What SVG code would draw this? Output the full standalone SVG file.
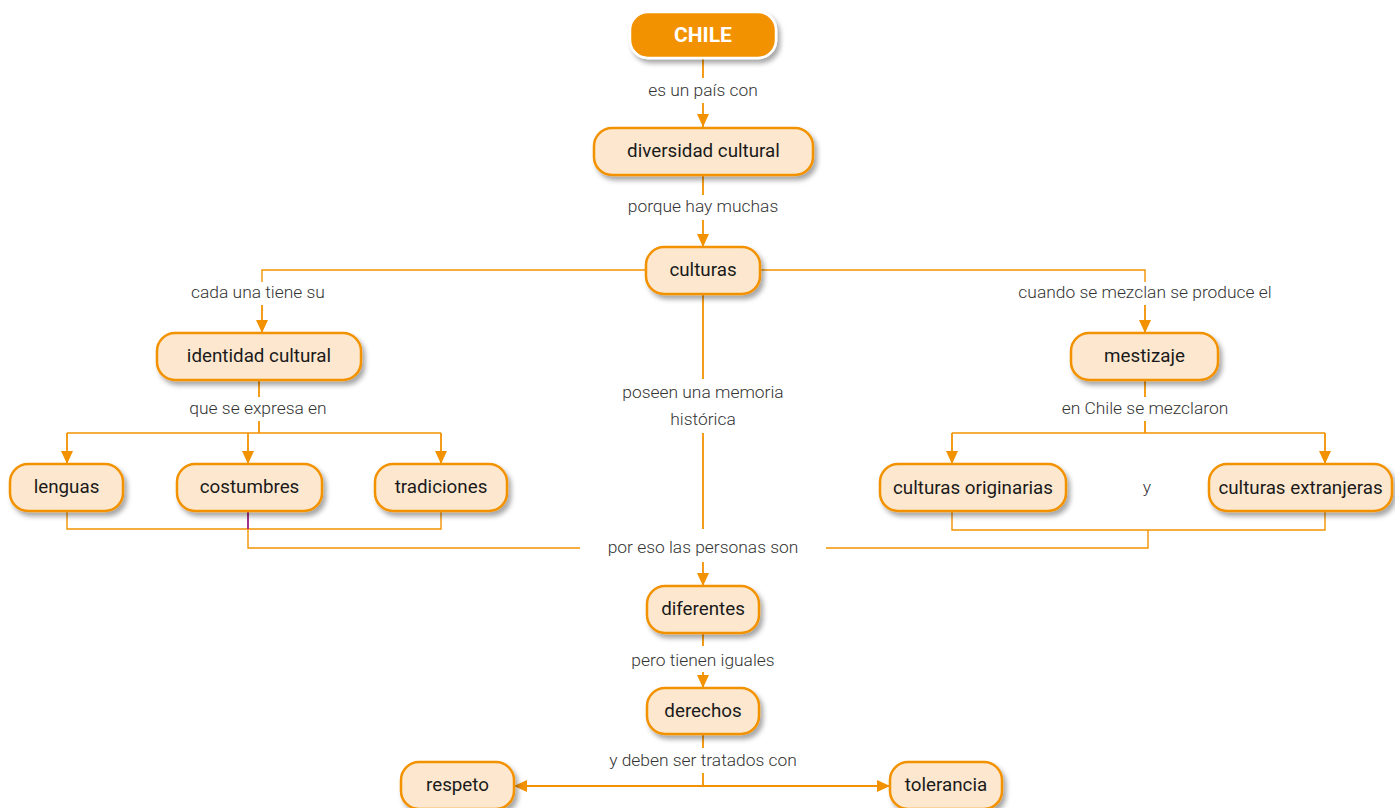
<svg xmlns="http://www.w3.org/2000/svg" width="1395" height="808" viewBox="0 0 1395 808">
<style>
.n rect{fill:#fde8cf;stroke:#f39200;stroke-width:2.5}
.n text{font-family:Roboto,"Open Sans",sans-serif;font-size:18.8px;fill:#1a1a1a;text-anchor:middle}
.c line,.c polyline{stroke:#f39200;stroke-width:1.8;fill:none}
.c .h{stroke-width:1.4}
.l{font-family:Roboto,"Open Sans",sans-serif;font-weight:300;font-size:17.4px;fill:#333;text-anchor:middle}
</style>
<defs>
<filter id="sh" x="-20%" y="-30%" width="150%" height="180%">
<feDropShadow dx="3" dy="4" stdDeviation="2.5" flood-color="#000" flood-opacity="0.35"/>
</filter>
<marker id="a" viewBox="0 0 13 12" refX="13" refY="6" markerWidth="13" markerHeight="12" markerUnits="userSpaceOnUse" orient="auto-start-reverse">
<path d="M0,0 L13,6 L0,12 z" fill="#f39200"/>
</marker>
</defs>
<rect width="1395" height="808" fill="#fff"/>
<g class="c" id="connectors">
<line x1="703" y1="58" x2="703" y2="78"/>
<line x1="703" y1="103" x2="703" y2="127" marker-end="url(#a)"/>
<line x1="703" y1="175" x2="703" y2="195"/>
<line x1="703" y1="220" x2="703" y2="247" marker-end="url(#a)"/>
<polyline class="h" points="646,270 262,270 262,282"/>
<line x1="262" y1="305" x2="262" y2="333" marker-end="url(#a)"/>
<polyline class="h" points="760,270 1145,270 1145,282"/>
<line x1="1145" y1="305" x2="1145" y2="333" marker-end="url(#a)"/>
<line x1="703" y1="294" x2="703" y2="379"/>
<line x1="703" y1="433" x2="703" y2="529"/>
<line x1="259" y1="380" x2="259" y2="397"/>
<line x1="259" y1="421" x2="259" y2="433"/>
<line class="h" x1="67" y1="433" x2="441" y2="433"/>
<line x1="67" y1="433" x2="67" y2="464" marker-end="url(#a)"/>
<line x1="248" y1="433" x2="248" y2="464" marker-end="url(#a)"/>
<line x1="441" y1="433" x2="441" y2="464" marker-end="url(#a)"/>
<polyline class="h" points="67,511 67,529 441,529 441,511"/>
<line x1="248" y1="511" x2="248" y2="529" style="stroke:#9b1c7c"/>
<polyline class="h" points="248,529 248,548 580,548"/>
<line x1="1145" y1="380" x2="1145" y2="397"/>
<line x1="1145" y1="421" x2="1145" y2="433"/>
<line class="h" x1="952" y1="433" x2="1325" y2="433"/>
<line x1="952" y1="433" x2="952" y2="464" marker-end="url(#a)"/>
<line x1="1325" y1="433" x2="1325" y2="464" marker-end="url(#a)"/>
<polyline class="h" points="952,511 952,530 1325,530 1325,511"/>
<polyline class="h" points="1148,530 1148,548 826,548"/>
<line x1="703" y1="562" x2="703" y2="586" marker-end="url(#a)"/>
<line x1="703" y1="633" x2="703" y2="646"/>
<line x1="703" y1="672" x2="703" y2="688" marker-end="url(#a)"/>
<line x1="703" y1="734" x2="703" y2="748"/>
<line x1="703" y1="773" x2="703" y2="786"/>
<line x1="514" y1="786" x2="890" y2="786" marker-start="url(#a)" marker-end="url(#a)"/>
<text class="l" x="703" y="96">es un país con</text>
<text class="l" x="703" y="212">porque hay muchas</text>
<text class="l" x="258" y="298">cada una tiene su</text>
<text class="l" x="1145" y="298">cuando se mezclan se produce el</text>
<text class="l" x="703" y="398">poseen una memoria</text>
<text class="l" x="703" y="425">histórica</text>
<text class="l" x="258" y="414">que se expresa en</text>
<text class="l" x="1145" y="414">en Chile se mezclaron</text>
<text class="l" x="1147" y="493">y</text>
<text class="l" x="703" y="553">por eso las personas son</text>
<text class="l" x="703" y="666">pero tienen iguales</text>
<text class="l" x="703" y="766">y deben ser tratados con</text>
</g>
<g class="n" id="chile">
<rect x="630" y="12" width="146" height="46" rx="18" filter="url(#sh)" style="fill:#f39200;stroke:#fff"/>
<text x="703" y="42" style="fill:#fff;font-weight:bold;font-size:21px">CHILE</text>
</g>
<g class="n" id="diversidad">
<rect x="594" y="128" width="219" height="47" rx="18" filter="url(#sh)"/>
<text x="703.5" y="157">diversidad cultural</text>
</g>
<g class="n" id="culturas">
<rect x="646" y="247" width="114" height="47" rx="18" filter="url(#sh)"/>
<text x="703" y="276">culturas</text>
</g>
<g class="n" id="identidad">
<rect x="157" y="333" width="204" height="47" rx="18" filter="url(#sh)"/>
<text x="259" y="362">identidad cultural</text>
</g>
<g class="n" id="mestizaje">
<rect x="1071" y="333" width="147" height="47" rx="18" filter="url(#sh)"/>
<text x="1144.5" y="362">mestizaje</text>
</g>
<g class="n" id="lenguas">
<rect x="10" y="464" width="113" height="47" rx="18" filter="url(#sh)"/>
<text x="66.5" y="493">lenguas</text>
</g>
<g class="n" id="costumbres">
<rect x="177" y="464" width="145" height="47" rx="18" filter="url(#sh)"/>
<text x="249.5" y="493">costumbres</text>
</g>
<g class="n" id="tradiciones">
<rect x="375" y="464" width="132" height="47" rx="18" filter="url(#sh)"/>
<text x="441" y="493">tradiciones</text>
</g>
<g class="n" id="originarias">
<rect x="880" y="464" width="186" height="47" rx="18" filter="url(#sh)"/>
<text x="973" y="494">culturas originarias</text>
</g>
<g class="n" id="extranjeras">
<rect x="1209" y="464" width="183" height="47" rx="18" filter="url(#sh)"/>
<text x="1300.5" y="494">culturas extranjeras</text>
</g>
<g class="n" id="diferentes">
<rect x="647" y="586" width="112" height="47" rx="18" filter="url(#sh)"/>
<text x="703" y="615">diferentes</text>
</g>
<g class="n" id="derechos">
<rect x="647" y="688" width="112" height="46" rx="18" filter="url(#sh)"/>
<text x="703" y="717">derechos</text>
</g>
<g class="n" id="respeto">
<rect x="401" y="762" width="113" height="47" rx="18" filter="url(#sh)"/>
<text x="457.5" y="791">respeto</text>
</g>
<g class="n" id="tolerancia">
<rect x="890" y="762" width="112" height="47" rx="18" filter="url(#sh)"/>
<text x="946" y="791">tolerancia</text>
</g>
</svg>
